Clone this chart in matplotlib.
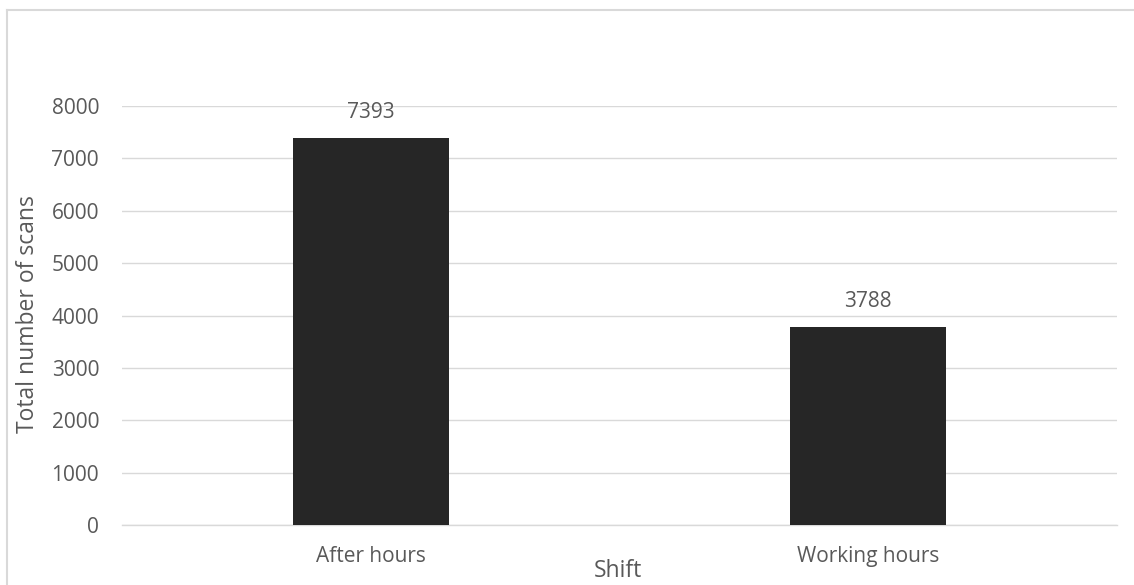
import matplotlib
matplotlib.use("Agg")
from matplotlib import pyplot as plt
from matplotlib.lines import Line2D

# ── Data ──────────────────────────────────────────────────────────────────────
shifts = ["After hours", "Working hours"]
scans = [7393, 3788]
y_ticks = [0, 1000, 2000, 3000, 4000, 5000, 6000, 7000, 8000]

TEXT = "#595959"
GRID = "#d9d9d9"
BAR = "#262626"

plt.rcParams["font.family"] = ["Open Sans", "DejaVu Sans"]

W, H = 1134, 585
fig = plt.figure(figsize=(W / 100, H / 100), dpi=100)
fig.patch.set_facecolor("white")

# plot area in pixel terms
left, right, top, bottom = 122, 1117, 106, 525
ax = fig.add_axes([left / W, 1 - bottom / H, (right - left) / W, (bottom - top) / H])

x = list(range(len(shifts)))
bars = ax.bar(x, scans, width=0.314, color=BAR, zorder=3)

ax.set_xlim(-0.5, len(shifts) - 0.5)
ax.set_ylim(0, 8000)
ax.set_yticks(y_ticks)
ax.set_yticklabels([str(v) for v in y_ticks])
ax.set_xticks(x)
ax.set_xticklabels(shifts)

ax.yaxis.grid(True, color=GRID, linewidth=1.0, zorder=0)
ax.set_axisbelow(True)
for s in ["top", "right", "left"]:
    ax.spines[s].set_visible(False)
ax.spines["bottom"].set_color(GRID)
ax.spines["bottom"].set_linewidth(1.0)

ax.tick_params(axis="y", length=0, pad=16.5, labelsize=15, labelcolor=TEXT)
ax.tick_params(axis="x", length=0, pad=15, labelsize=15, labelcolor=TEXT)

# data labels
for b, v in zip(bars, scans):
    ax.annotate(
        str(v),
        (b.get_x() + b.get_width() / 2, v),
        xytext=(0, 18),
        textcoords="offset points",
        ha="center",
        va="center",
        fontsize=15,
        color=TEXT,
    )

# axis titles
fig.text(28 / W, 1 - 314 / H, "Total number of scans", rotation=90,
         ha="center", va="center", fontsize=16.5, color=TEXT)
fig.text(618 / W, 1 - 571 / H, "Shift", ha="center", va="center",
         fontsize=16.5, color=TEXT)

# chart border (only top and left edges visible in the crop)
fig.add_artist(Line2D([7 / W, 1], [1 - 10 / H, 1 - 10 / H], color=GRID,
                      linewidth=1.5, transform=fig.transFigure))
fig.add_artist(Line2D([7 / W, 7 / W], [0, 1 - 10 / H], color=GRID,
                      linewidth=1.5, transform=fig.transFigure))

plt.savefig("out.png", dpi=100, facecolor="white")
